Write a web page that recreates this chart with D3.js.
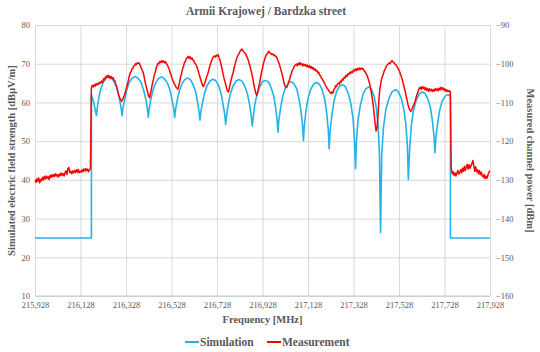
<!DOCTYPE html>
<html>
<head>
<meta charset="utf-8">
<script src="https://cdn.jsdelivr.net/npm/d3@7"></script>
<style>
  body { margin: 0; background: #fff; }
  svg { display: block; }
  text { font-family: "Liberation Serif", "Times New Roman", serif; }
</style>
</head>
<body>
<svg width="540" height="352"></svg>
<script>
// axis ticks
const freqTicks = [215.928, 216.128, 216.328, 216.528, 216.728, 216.928, 217.128, 217.328, 217.528, 217.728, 217.928];
const freqLabels = ["215,928", "216,128", "216,328", "216,528", "216,728", "216,928", "217,128", "217,328", "217,528", "217,728", "217,928"];
const fieldTicks = [10, 20, 30, 40, 50, 60, 70, 80];
const powerTicks = [-160, -150, -140, -130, -120, -110, -100, -90];

// simulation (dBuV/m, left axis)
const simFreq = [
  215.928, 216.176, 216.176, 216.180, 216.185, 216.190, 216.194, 216.198,
  216.202, 216.208, 216.217, 216.228, 216.240, 216.251, 216.265, 216.277, 216.290, 216.299, 216.306, 216.311,
  216.315, 216.323, 216.332, 216.343, 216.356, 216.368, 216.380, 216.394, 216.405, 216.415, 216.422, 216.426,
  216.430, 216.437, 216.447, 216.458, 216.471, 216.484, 216.496, 216.510, 216.521, 216.530, 216.538, 216.542,
  216.546, 216.553, 216.562, 216.574, 216.586, 216.598, 216.611, 216.622, 216.634, 216.642, 216.649, 216.653,
  216.657, 216.665, 216.674, 216.685, 216.698, 216.710, 216.722, 216.735, 216.746, 216.754, 216.762, 216.766,
  216.771, 216.778, 216.787, 216.799, 216.812, 216.826, 216.838, 216.850, 216.862, 216.871, 216.878, 216.883,
  216.888, 216.894, 216.904, 216.916, 216.928, 216.941, 216.954, 216.965, 216.977, 216.985, 216.992, 216.996,
  217.000, 217.008, 217.017, 217.028, 217.042, 217.054, 217.065, 217.078, 217.088, 217.097, 217.104, 217.108,
  217.112, 217.119, 217.128, 217.140, 217.153, 217.166, 217.178, 217.190, 217.202, 217.210, 217.217, 217.221,
  217.225, 217.233, 217.242, 217.253, 217.266, 217.278, 217.292, 217.304, 217.316, 217.326, 217.332, 217.337,
  217.341, 217.348, 217.358, 217.369, 217.382, 217.395, 217.406, 217.418, 217.428, 217.436, 217.442, 217.447,
  217.452, 217.460, 217.470, 217.484, 217.498, 217.513, 217.525, 217.537, 217.549, 217.558, 217.565, 217.569,
  217.575, 217.582, 217.591, 217.604, 217.617, 217.630, 217.643, 217.655, 217.667, 217.675, 217.682, 217.686,
  217.690, 217.698, 217.706, 217.717, 217.730, 217.742, 217.748, 217.754, 217.754, 217.928
];
const simLevel = [
  25, 25, 62.0, 61.3, 60.2, 58.9, 57.7, 56.6,
  58.7, 61.0, 63.4, 65.2, 66.35, 66.7, 66.35, 65.2, 63.4, 61.0, 58.7, 56.6,
  58.7, 61.0, 63.4, 65.2, 66.35, 66.7, 66.3, 65.2, 63.3, 60.9, 58.5, 56.2,
  58.4, 60.8, 63.2, 65.0, 66.2, 66.6, 66.2, 65.05, 63.2, 60.8, 58.4, 56.1,
  58.2, 60.6, 62.9, 64.8, 65.9, 66.3, 65.9, 64.7, 62.8, 60.3, 57.7, 55.4,
  57.7, 60.1, 62.6, 64.4, 65.6, 66.0, 65.65, 64.4, 62.3, 59.7, 56.9, 54.3,
  56.9, 59.7, 62.25, 64.3, 65.55, 65.9, 65.5, 64.2, 62.2, 59.5, 56.7, 53.9,
  56.6, 59.45, 62.0, 64.05, 65.35, 65.7, 65.3, 63.95, 61.75, 58.9, 55.6, 52.3,
  55.5, 58.7, 61.5, 63.7, 65.0, 65.4, 64.9, 63.6, 61.1, 57.9, 54.1, 50.1,
  54.0, 57.8, 61.0, 63.4, 64.75, 65.2, 64.7, 63.3, 60.7, 57.3, 53.0, 48.0,
  52.65, 56.8, 60.2, 62.7, 64.15, 64.6, 64.1, 62.5, 59.8, 55.9, 50.5, 42.9,
  50.2, 55.45, 59.25, 61.95, 63.5, 64.0, 63.5, 61.7, 58.7, 54.2, 46.9, 26.4,
  46.5, 53.7, 58.1, 61.1, 62.8, 63.3, 62.8, 61.2, 58.4, 54.4, 48.7, 40.1,
  48.2, 53.9, 57.8, 60.6, 62.2, 62.7, 62.3, 60.9, 58.4, 55.2, 51.2, 47.0,
  50.9, 54.65, 57.8, 60.2, 61.55, 62.0, 61.9, 61.6, 25, 25
];

// measurement sweep (dBm, right axis), one value per sweep point
const sweepStart = 215.928;
const sweepStep = 0.00413;
const measDbm = [
  // below the channel
  -130.0, -130.6, -129.7, -130.4, -129.5, -130.8, -129.9, -130.2, -129.3, -130.0,
  -129.1, -129.8, -129.0, -129.6, -129.2, -129.9, -128.8, -129.4, -128.7, -129.2,
  -128.6, -129.1, -128.4, -129.0, -128.7, -129.3, -128.5, -128.9, -128.2, -128.8,
  -128.4, -129.0, -128.1, -127.7, -128.6, -127.1, -126.8, -128.1, -127.8, -128.4,
  -127.7, -128.2, -127.6, -128.1, -127.4, -128.0, -127.3, -128.2, -127.8, -128.0,
  -127.4, -127.9, -127.2, -127.7, -127.1, -127.6, -127.2, -127.9, -127.4, -127.1,
  // channel
  -106.2, -105.6, -106.0, -105.4, -105.8, -105.2, -105.5, -105.0, -105.3, -104.7, -105.0, -104.5,
  -104.8, -103.9, -104.2, -103.4, -103.7, -103.0, -103.5, -103.1, -103.8, -103.3,
  -103.9, -103.6, -104.2, -104.4, -105.3, -105.9, -107.1, -108.0, -108.8, -109.2,
  -109.7, -109.4, -108.8, -108.2, -107.4, -106.6, -105.6, -104.7, -103.6, -102.6,
  -102.2, -101.4, -101.3, -100.6, -100.5, -100.0, -100.2, -99.7, -99.9, -99.8,
  -100.5, -101.0, -101.7, -102.1, -103.2, -104.4, -105.6, -106.5, -107.5, -108.4,
  -108.8, -107.6, -106.4, -105.1, -104.1, -102.9, -102.2, -101.1, -100.5, -99.9,
  -100.0, -99.4, -99.7, -99.2, -99.6, -99.3, -99.8, -99.5, -100.0, -100.4,
  -101.0, -101.5, -102.4, -103.0, -103.9, -104.4, -105.1, -105.5, -106.0, -106.3,
  -106.6, -105.8, -104.6, -103.4, -102.5, -101.4, -100.7, -99.8, -99.4, -98.7,
  -98.5, -98.1, -98.6, -98.2, -98.8, -98.5, -99.0, -99.2, -99.8, -100.1,
  -100.6, -101.4, -102.1, -103.0, -103.8, -104.6, -105.4, -105.9, -105.5, -104.8,
  -104.0, -103.2, -102.5, -101.6, -100.7, -99.9, -99.2, -98.5, -98.2, -98.0,
  -98.3, -97.8, -98.0, -97.7, -98.5, -99.1, -100.2, -101.2, -102.5, -103.6,
  -104.5, -105.4, -106.3, -107.1, -107.3, -106.1, -105.0, -103.9, -103.0, -102.2,
  -101.1, -100.1, -99.2, -98.4, -97.8, -97.5, -96.9, -96.6, -96.2, -96.5,
  -96.9, -97.1, -97.4, -98.0, -98.4, -99.1, -100.0, -100.8, -101.8, -102.9,
  -104.1, -105.5, -106.6, -107.6, -108.2, -107.4, -106.1, -105.0, -103.7, -102.4,
  -101.3, -100.1, -99.2, -98.4, -97.8, -97.5, -97.1, -96.8, -97.2, -97.4,
  -97.6, -97.5, -97.9, -97.7, -98.1, -98.2, -98.9, -99.4, -100.1, -101.0,
  -101.8, -102.7, -103.8, -105.0, -105.7, -106.2, -106.1, -105.5, -104.7, -104.0,
  -103.1, -102.4, -101.6, -101.2, -100.6, -100.4, -100.1, -100.5, -99.9, -100.3,
  -99.7, -100.2, -100.0, -100.6, -100.1, -100.5, -100.2, -100.8, -100.4, -100.9,
  -100.5, -101.1, -100.7, -101.3, -101.0, -101.6, -101.3, -101.9, -101.7, -102.4,
  -102.2, -103.0, -103.1, -103.8, -104.0, -104.6, -104.9, -105.5, -106.0, -106.4,
  -106.7, -107.1, -107.4, -107.7, -107.3, -107.6, -106.7, -106.4, -105.7, -105.9,
  -105.2, -105.0, -105.3, -104.5, -104.7, -104.0, -104.2, -103.5, -103.7, -103.0,
  -103.3, -102.6, -102.8, -102.2, -102.5, -102.0, -102.3, -101.6, -101.9, -101.4,
  -101.8, -101.2, -101.6, -101.1, -101.5, -101.1, -101.4, -101.2, -101.7, -102.0,
  -102.4, -102.8, -103.4, -104.2, -105.0, -106.2, -107.5, -109.1, -110.8, -113.2,
  -115.5, -117.4, -116.6, -113.6, -109.4, -106.6, -105.0, -103.8, -103.2, -102.4,
  -101.7, -101.2, -100.6, -100.3, -100.0, -99.8, -100.0, -99.5, -99.2, -99.6,
  -99.7, -100.1, -100.2, -100.6, -101.1, -101.5, -102.0, -102.7, -103.4, -104.2,
  -105.2, -106.2, -107.1, -108.4, -109.4, -110.6, -111.4, -112.0, -112.3, -111.9,
  -111.2, -110.7, -110.1, -109.3, -108.4, -107.7, -107.0, -106.4, -106.1, -106.6,
  -105.9, -106.4, -106.0, -106.7, -106.2, -106.9, -106.4, -107.1, -106.5, -107.0,
  -106.6, -107.2, -106.7, -107.1, -106.4, -106.9, -106.5, -107.0, -106.3, -106.8,
  -106.1, -106.6, -106.2, -106.8, -106.5, -107.1, -106.7, -107.2, -106.9, -107.3,
  -107.1,
  // above the channel
  -127.0, -128.4,
  -127.9, -128.8, -128.2, -129.0, -128.3, -127.6, -128.5, -128.0, -127.4, -128.2,
  -127.0, -127.8, -126.5, -127.6, -126.7, -126.0, -127.2, -126.1, -127.0, -126.4,
  -125.8, -125.0, -126.4, -127.8, -126.6, -127.9, -127.4, -128.4, -127.6, -128.7,
  -128.0, -128.9, -129.3, -128.6, -129.7, -129.0, -129.6, -128.8, -128.1, -127.6
];

const svg = d3.select("svg");
var width = +svg.attr("width");
var height = +svg.attr("height");

svg.append("rect").attr("width", width).attr("height", height).attr("fill", "#fff");

const plotLeft = 35, plotRight = 490, plotTop = 25, plotBottom = 296;

const x = d3.scaleLinear().domain([215.928, 217.928]).range([plotLeft, plotRight]);
const yField = d3.scaleLinear().domain([10, 80]).range([plotBottom, plotTop]);
const yPower = d3.scaleLinear().domain([-160, -90]).range([plotBottom, plotTop]);

const textColor = "#595959";
const gridColor = "#d9d9d9";

// vertical grid + x labels
var gx = svg.append("g")
  .attr("transform", `translate(0,${plotBottom})`)
  .call(d3.axisBottom(x)
    .tickValues(freqTicks)
    .tickSize(-(plotBottom - plotTop))
    .tickPadding(6)
    .tickFormat(function (d, i) { return freqLabels[i]; }));
gx.select(".domain").remove();
gx.selectAll("line").attr("stroke", gridColor);
gx.selectAll("text").attr("fill", textColor).attr("font-size", 8.5)
  .style("font-family", '"Liberation Serif", serif');

// horizontal grid + left labels
var gy = svg.append("g")
  .attr("transform", `translate(${plotLeft},0)`)
  .call(d3.axisLeft(yField)
    .tickValues(fieldTicks)
    .tickSize(-(plotRight - plotLeft))
    .tickPadding(5));
gy.select(".domain").remove();
gy.selectAll("line").attr("stroke", gridColor);
gy.selectAll("text").attr("fill", textColor).attr("font-size", 8.5)
  .style("font-family", '"Liberation Serif", serif');

// right labels
var gy2 = svg.append("g")
  .attr("transform", `translate(${plotRight},0)`)
  .call(d3.axisRight(yPower)
    .tickValues(powerTicks)
    .tickSize(0)
    .tickPadding(6));
gy2.select(".domain").remove();
gy2.selectAll("text").attr("fill", textColor).attr("font-size", 8.5)
  .style("font-family", '"Liberation Serif", serif');

// bottom axis line
svg.append("line")
  .attr("x1", plotLeft).attr("x2", plotRight)
  .attr("y1", plotBottom).attr("y2", plotBottom)
  .attr("stroke", "#c8c8c8");

// series
const simPoints = simFreq.map(function (f, i) { return [f, simLevel[i]]; });
const measPoints = measDbm.map(function (v, i) { return [sweepStart + i * sweepStep, v]; });

svg.append("path")
  .datum(simPoints)
  .attr("fill", "none")
  .attr("stroke", "#21b3e9")
  .attr("stroke-width", 1.6)
  .attr("stroke-linejoin", "round")
  .attr("d", d3.line().x(function (d) { return x(d[0]); }).y(function (d) { return yField(d[1]); }));

svg.append("path")
  .datum(measPoints)
  .attr("fill", "none")
  .attr("stroke", "#ff0000")
  .attr("stroke-width", 1.5)
  .attr("stroke-linejoin", "round")
  .attr("d", d3.line().x(function (d) { return x(d[0]); }).y(function (d) { return yPower(d[1]); }));

// titles
svg.append("text")
  .attr("x", 266).attr("y", 15)
  .attr("text-anchor", "middle")
  .attr("font-size", 11.5).attr("font-weight", "bold")
  .attr("fill", textColor)
  .text("Armii Krajowej / Bardzka street");

svg.append("text")
  .attr("x", 262.5).attr("y", 323)
  .attr("text-anchor", "middle")
  .attr("font-size", 10.5).attr("font-weight", "bold")
  .attr("fill", textColor)
  .text("Frequency [MHz]");

svg.append("text")
  .attr("transform", `translate(15,${(plotTop + plotBottom) / 2}) rotate(-90)`)
  .attr("text-anchor", "middle")
  .attr("font-size", 10.5).attr("font-weight", "bold")
  .attr("fill", textColor)
  .text("Simulated electric field strength [dBµV/m]");

svg.append("text")
  .attr("transform", `translate(527,${(plotTop + plotBottom) / 2}) rotate(90)`)
  .attr("text-anchor", "middle")
  .attr("font-size", 10.5).attr("font-weight", "bold")
  .attr("fill", textColor)
  .text("Measured channel power [dBm]");

// legend
const legendItems = [
  { name: "Simulation", color: "#21b3e9", x: 185 },
  { name: "Measurement", color: "#ff0000", x: 267 }
];
var lg = svg.append("g").selectAll("g").data(legendItems).join("g")
  .attr("transform", function (d) { return `translate(${d.x},342)`; });
lg.append("line")
  .attr("x1", 0).attr("x2", 14).attr("y1", 0).attr("y2", 0)
  .attr("stroke", function (d) { return d.color; })
  .attr("stroke-width", 2);
lg.append("text")
  .attr("x", 15).attr("y", 4)
  .attr("font-size", 11.5).attr("font-weight", "bold")
  .attr("fill", textColor)
  .text(function (d) { return d.name; });
</script>
</body>
</html>
